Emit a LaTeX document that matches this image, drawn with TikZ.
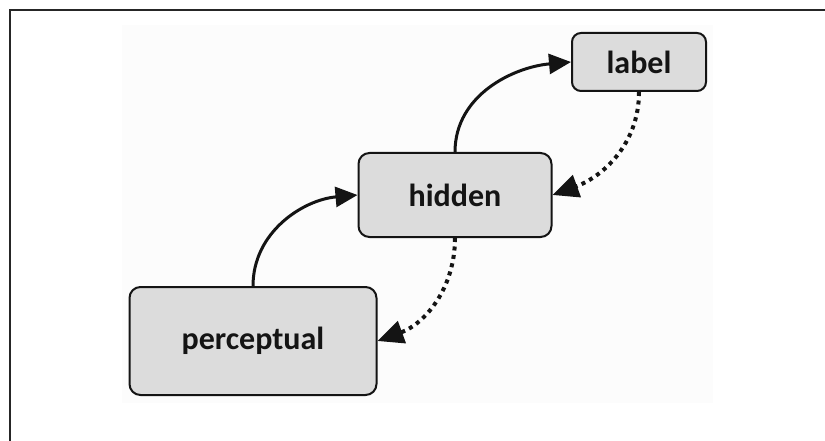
\documentclass[tikz,border=0pt]{standalone}
\usepackage{fontspec}
\setmainfont{Carlito}
\usetikzlibrary{arrows.meta,positioning}
\definecolor{boxgray}{HTML}{DCDCDC}
\definecolor{paleback}{HTML}{FCFCFC}
\definecolor{inkdark}{HTML}{141414}

\begin{document}
\begin{tikzpicture}[x=1pt, y=-1pt,
  layer/.style={rectangle, rounded corners=11pt, draw=inkdark, line width=2pt, fill=boxgray, font=\fontsize{32}{36}\selectfont\bfseries, text=inkdark, align=center},
  upflow/.style={-{Triangle[length=22pt, width=20pt]}, line width=3pt, inkdark},
  downflow/.style={-{Triangle[length=26pt, width=23pt]}, line width=4pt, inkdark, dash pattern=on 4pt off 4.5pt}]

\useasboundingbox (0,0) rectangle (825,441);

% frame and pale panel
\fill[paleback] (122,25) rectangle (713,403);
\draw[line width=2pt, black!85] (10,441) -- (10,10) -- (825,10);

% Layers
\node[layer, minimum width=247pt, minimum height=108pt] (perceptual) at (253,341) {perceptual};
\node[layer, minimum width=193pt, minimum height=84pt] (hidden) at (455,195) {hidden};
\node[layer, minimum width=134pt, minimum height=58pt, rounded corners=9pt] (label) at (639,62) {label};

% Bottom-up connections
\draw[upflow] (perceptual.north) to[out=90, in=185] (hidden.west);
\draw[upflow] (hidden.north) to[out=90, in=185] (label.west);

% Top-down connections
\draw[downflow] (label.south) to[out=-90, in=20] (hidden.east);
\draw[downflow] (hidden.south) to[out=-90, in=20] (perceptual.east);

\end{tikzpicture}
\end{document}
